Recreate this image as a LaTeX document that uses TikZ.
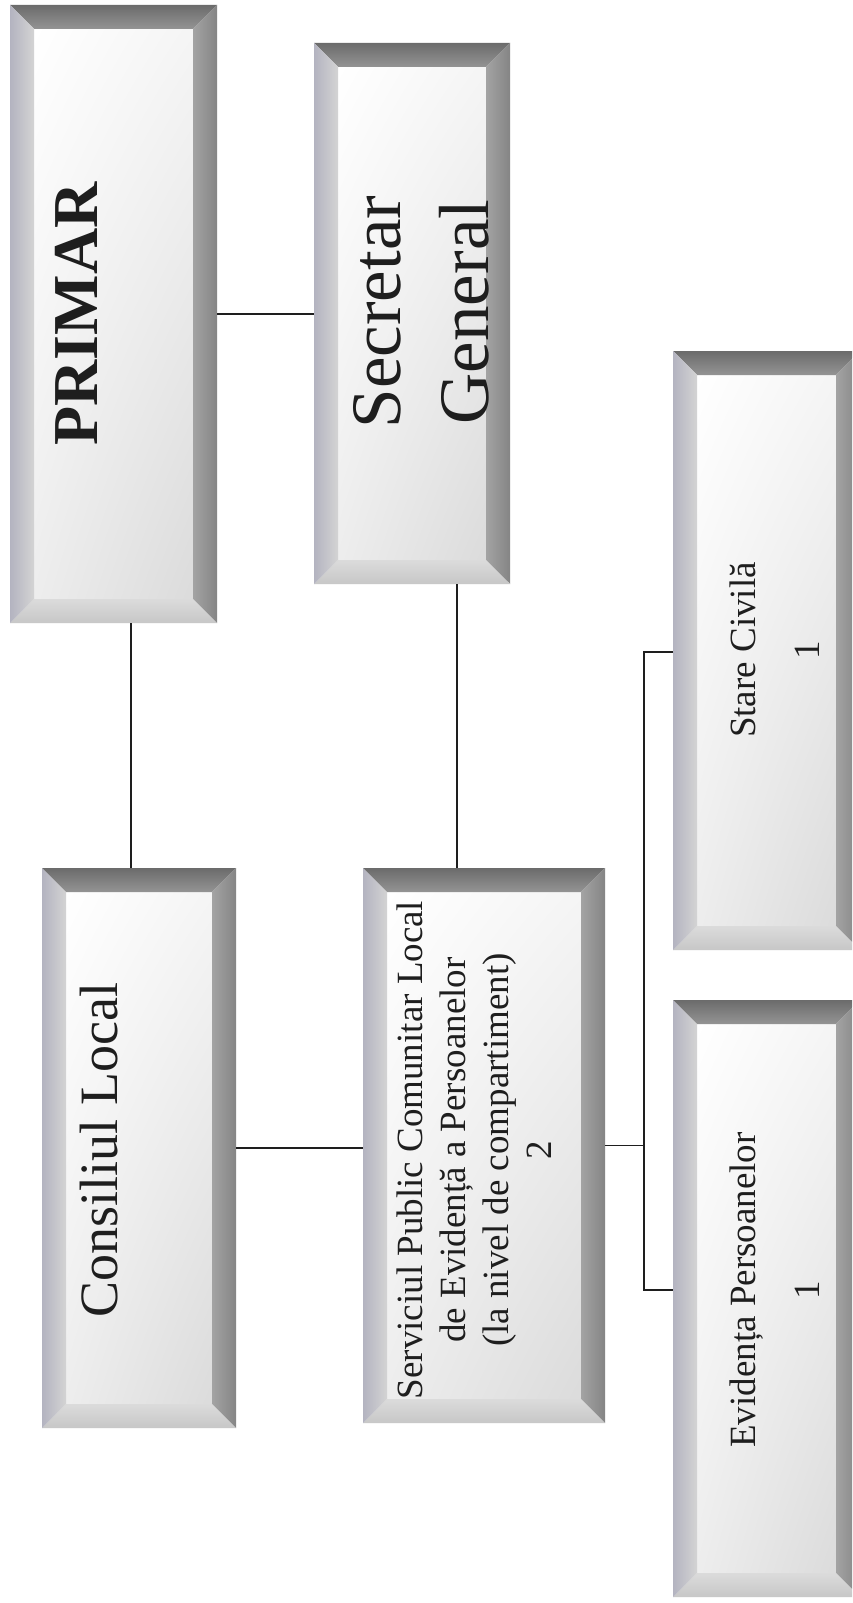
\documentclass[tikz,border=0pt]{standalone}
\usepackage{fontspec}
\setmainfont{Liberation Serif}
\usetikzlibrary{calc,fit,shadings}
\definecolor{ink}{HTML}{1E1E1E}
\def\bw{24}
\tikzset{
  boxnode/.style={inner sep=0pt, outer sep=0pt},
  innerfill/.style={upper left=white, upper right=white!96!black, lower left=white!93!black, lower right=white!86!black},
  bevtop/.style={top color=black!58, bottom color=black!42},
  bevright/.style={left color=black!36, right color=black!48},
  bevbot/.style={top color=black!14, bottom color=black!22},
  bevleft/.style={left color=black!26!white!95!blue, right color=black!17},
  txt/.style={text=ink, inner sep=0pt, rotate=90},
  conn/.style={draw=ink, line width=1.6pt}
}
\newcommand\bevbox[5]{%
  \node[boxnode, fit={(#2,#3) (#4,#5)}] (#1) {};
  \coordinate (#1-a) at ($(#1.north west)+(\bw,\bw)$);
  \coordinate (#1-b) at ($(#1.north east)+(-\bw,\bw)$);
  \coordinate (#1-c) at ($(#1.south east)+(-\bw,-\bw)$);
  \coordinate (#1-d) at ($(#1.south west)+(\bw,-\bw)$);
  \shade[innerfill] (#1-a) rectangle (#1-c);
  \shade[bevtop] (#1.north west) -- (#1.north east) -- (#1-b) -- (#1-a) -- cycle;
  \shade[bevright] (#1.north east) -- (#1.south east) -- (#1-c) -- (#1-b) -- cycle;
  \shade[bevbot] (#1.south east) -- (#1.south west) -- (#1-d) -- (#1-c) -- cycle;
  \shade[bevleft] (#1.south west) -- (#1.north west) -- (#1-a) -- (#1-d) -- cycle;
}
\begin{document}
\begin{tikzpicture}[x=1pt,y=-1pt]
\clip (0,0) rectangle (852,1603);
\fill[white] (0,0) rectangle (852,1603);
% boxes
\bevbox{prim}{10}{5}{217}{623}
\bevbox{sec}{314}{43}{510}{584}
\bevbox{cons}{42}{868}{236}{1428}
\bevbox{serv}{363}{868}{605}{1423}
\bevbox{stare}{673}{351}{860}{950}
\bevbox{evid}{673}{1000}{860}{1597}
% texts
\node[txt, font=\bfseries\fontsize{64}{77}\selectfont, anchor=base] (tprim) at (97,314) {PRIMAR};
\node[txt, font=\fontsize{71}{88}\selectfont, align=center] (tsec) at (421.5,312) {Secretar\\General};
\node[txt, font=\fontsize{54}{65}\selectfont, anchor=base] (tcons) at (117,1150) {Consiliul Local};
\node[txt, font=\fontsize{37}{43}\selectfont, align=center] (tserv) at (474,1150) {Serviciul Public Comunitar Local\\de Evidență a Persoanelor\\(la nivel de compartiment)\\2};
\node[txt, font=\fontsize{37}{64}\selectfont, align=center] (tstare) at (774.5,650) {Stare Civilă\\1};
\node[txt, font=\fontsize{37}{64}\selectfont, align=center] (tevid) at (774.5,1290) {Evidența Persoanelor\\1};
% connectors
\coordinate (pcx) at (131,0);
\coordinate (ssx) at (457,0);
\coordinate (busx) at (644,0);
\coordinate (sty) at (0,652);
\coordinate (evy) at (0,1290);
\draw[conn] (prim.south -| pcx) -- (cons.north -| pcx);
\draw[conn] (prim.east) -- (prim.east -| sec.west);
\draw[conn] (sec.south -| ssx) -- (serv.north -| ssx);
\draw[conn] (cons.east) -- (cons.east -| serv.west);
\draw[conn] (serv.east) -- (serv.east -| busx);
\draw[conn] (stare.west |- sty) -| (busx |- evy) -- (evid.west |- evy);
\end{tikzpicture}
\end{document}
